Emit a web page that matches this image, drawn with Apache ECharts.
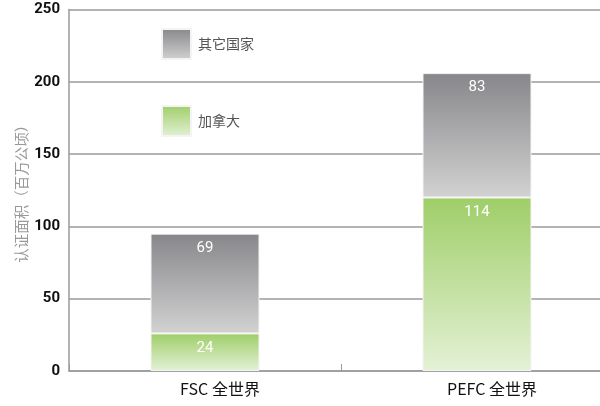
<!DOCTYPE html>
<html>
<head>
<meta charset="utf-8">
<script src="https://cdn.jsdelivr.net/npm/echarts@6/dist/echarts.min.js"></script>
<style>
  html, body { margin: 0; padding: 0; background: #fff; }
  #chart { width: 600px; height: 406px; }
</style>
</head>
<body>
<div id="chart"></div>
<script>
// 数据
const categories = ['FSC 全世界', 'PEFC 全世界'];
const seriesNames = ['其它国家', '加拿大'];
// 柱高（按图中量得）
const canadaValues = [26, 120];
const otherValues = [69, 86];
// 柱上标注的数字
const canadaLabels = ['24', '114'];
const otherLabels = ['69', '83'];
const yTicks = [0, 50, 100, 150, 200, 250];

const grayFill = new echarts.graphic.LinearGradient(0, 0, 0, 1, [
  { offset: 0, color: '#87878b' },
  { offset: 1, color: '#d2d2d2' },
]);
const greenFill = new echarts.graphic.LinearGradient(0, 0, 0, 1, [
  { offset: 0, color: '#9fce68' },
  { offset: 1, color: '#e4f1d6' },
]);

const myChart = echarts.init(document.getElementById('chart'));
myChart.setOption({
  animation: false,
  legend: {
    orient: 'vertical',
    left: 161,
    top: 28,
    padding: 0,
    itemWidth: 29,
    itemHeight: 30,
    itemGap: 45,
    icon: 'rect',
    data: ['其它国家', '加拿大'],
    textStyle: {
      fontFamily: 'Noto Sans CJK SC',
      fontSize: 14,
      color: '#555',
      padding: [0, 0, 0, 2],
    },
  },
  grid: {
    left: 69,
    top: 9.5,
    width: 544,
    height: 361.5,
    containLabel: false,
    outerBoundsMode: 'none',
  },
  xAxis: {
    type: 'category',
    data: categories,
    boundaryGap: true,
    axisLine: { lineStyle: { color: '#9a9a9a', width: 1.5 } },
    axisTick: { show: true, inside: true, length: 7, lineStyle: { color: '#9a9a9a', width: 1 } },
    axisLabel: {
      margin: 10,
      color: '#111',
      fontSize: 16,
      fontFamily: 'Noto Sans CJK SC',
      padding: [0, 0, 0, 30],
    },
  },
  yAxis: {
    type: 'value',
    min: yTicks[0],
    max: yTicks[yTicks.length - 1],
    interval: 50,
    name: '认证面积（百万公顷）',
    nameLocation: 'middle',
    nameGap: 40,
    nameRotate: 90,
    nameMoveOverlap: false,
    nameTextStyle: {
      fontFamily: 'Noto Sans CJK SC',
      fontSize: 14.5,
      color: '#999',
    },
    axisLine: { show: true, lineStyle: { color: '#9a9a9a', width: 1.5 } },
    axisTick: { show: false },
    splitLine: { lineStyle: { color: '#9a9a9a', width: 1.5 } },
    axisLabel: {
      margin: 9,
      color: '#111',
      fontSize: 15,
      fontWeight: 'bold',
      fontFamily: 'Roboto',
    },
  },
  series: [
    {
      name: seriesNames[1],
      type: 'bar',
      stack: 'total',
      barWidth: 109,
      data: canadaValues,
      itemStyle: { color: greenFill, borderColor: '#f4f4f4', borderWidth: 1 },
      label: {
        show: true,
        position: 'insideTop',
        distance: 7,
        color: '#fff',
        fontSize: 15,
        fontFamily: 'Roboto',
        formatter: p => canadaLabels[p.dataIndex],
      },
    },
    {
      name: seriesNames[0],
      type: 'bar',
      stack: 'total',
      barWidth: 109,
      data: otherValues,
      itemStyle: { color: grayFill, borderColor: '#f4f4f4', borderWidth: 1 },
      label: {
        show: true,
        position: 'insideTop',
        distance: 7,
        color: '#fff',
        fontSize: 15,
        fontFamily: 'Roboto',
        formatter: p => otherLabels[p.dataIndex],
      },
    },
  ],
});
</script>
</body>
</html>
